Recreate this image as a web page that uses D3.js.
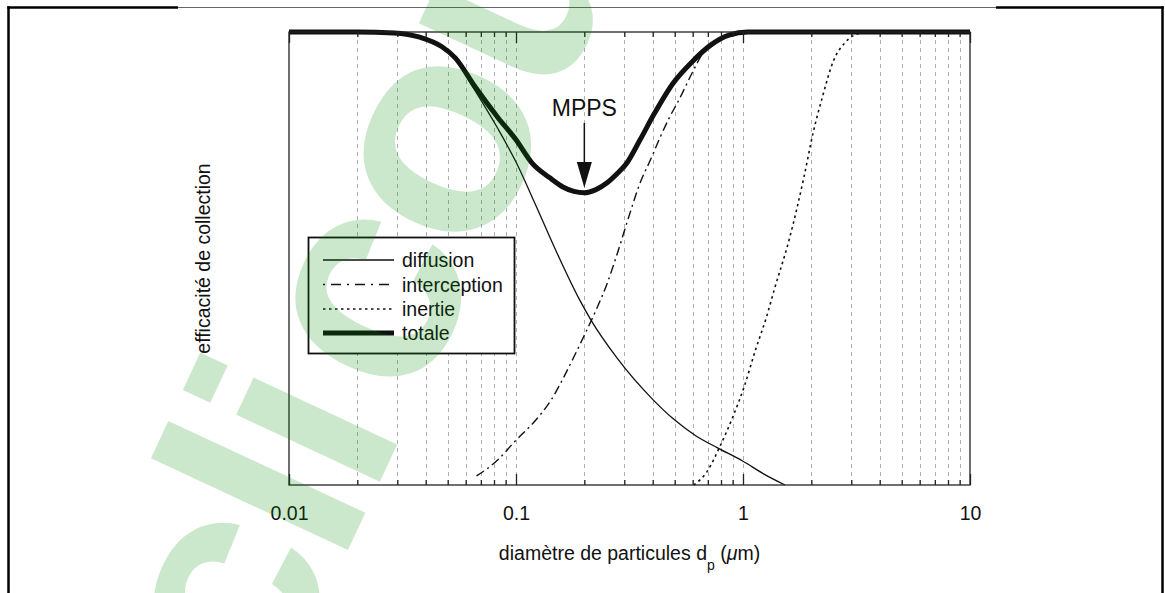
<!DOCTYPE html>
<html>
<head>
<meta charset="utf-8">
<script src="https://cdn.jsdelivr.net/npm/d3@7"></script>
<style>
  html, body { margin: 0; padding: 0; background: #fff; }
  svg { display: block; font-family: "Liberation Sans", Arial, Helvetica, sans-serif; }
</style>
</head>
<body>
<svg id="chart" width="1165" height="593"></svg>
<script>
// Collection efficiency of a fibrous filter vs particle diameter (µm)
const diffusionDp = [0.01, 0.02, 0.03, 0.038, 0.047, 0.054, 0.0634, 0.0829, 0.1, 0.1226, 0.15, 0.191, 0.214, 0.279, 0.402, 0.493, 0.614, 0.772, 0.996, 1.237, 1.531];
const diffusionE  = [1, 1, 0.998, 0.988, 0.968, 0.94, 0.885, 0.788, 0.713, 0.616, 0.517, 0.408, 0.364, 0.28, 0.188, 0.146, 0.11, 0.082, 0.053, 0.024, 0];

const interceptionDp = [0.067, 0.083, 0.0987, 0.122, 0.143, 0.16, 0.18, 0.202, 0.227, 0.25, 0.279, 0.313, 0.351, 0.393, 0.432, 0.475, 0.522, 0.596, 0.667, 0.734, 0.837, 1.0, 1.2];
const interceptionE  = [0.02, 0.055, 0.096, 0.143, 0.188, 0.232, 0.283, 0.335, 0.39, 0.44, 0.51, 0.59, 0.665, 0.72, 0.768, 0.812, 0.85, 0.909, 0.954, 0.976, 0.993, 1.0, 1.0];

const inertieDp = [0.607, 0.693, 0.791, 0.903, 1.012, 1.135, 1.271, 1.371, 1.596, 1.858, 2.033, 2.239, 2.51, 2.81, 3.27, 4, 10];
const inertieE  = [0, 0.029, 0.085, 0.151, 0.217, 0.298, 0.372, 0.43, 0.541, 0.681, 0.776, 0.857, 0.938, 0.976, 0.997, 1, 1];

const totaleDp = [0.01, 0.02, 0.029, 0.038, 0.047, 0.054, 0.066, 0.083, 0.1, 0.118, 0.141, 0.161, 0.18, 0.2, 0.225, 0.252, 0.28, 0.308, 0.352, 0.408, 0.492, 0.596, 0.72, 0.867, 1.05, 2, 10];
const totaleE  = [1, 1, 0.998, 0.988, 0.968, 0.943, 0.879, 0.812, 0.762, 0.71, 0.678, 0.658, 0.648, 0.645, 0.652, 0.667, 0.688, 0.711, 0.762, 0.821, 0.887, 0.934, 0.971, 0.993, 1, 1, 1];

const seriesNames = ["diffusion", "interception", "inertie", "totale"];
const majorTickValues = [0.01, 0.1, 1, 10];
const majorTickLabels = ["0.01", "0.1", "1", "10"];
const mppsDiameter = 0.2;

const svg = d3.select("#chart");

const x = d3.scaleLog().domain([0.01, 10]).range([289, 970]);
const y = d3.scaleLinear().domain([0, 1]).range([485, 32]);

// outer frame of the figure cell
const frame = svg.append("g");
frame.append("line").attr("x1", 7.3).attr("x2", 178).attr("y1", 7.5).attr("y2", 7.5).attr("stroke", "#000").attr("stroke-width", 2.5);
frame.append("line").attr("x1", 178).attr("x2", 996).attr("y1", 7.5).attr("y2", 7.5).attr("stroke", "#666").attr("stroke-width", 1);
frame.append("line").attr("x1", 996).attr("x2", 1163.7).attr("y1", 7.5).attr("y2", 7.5).attr("stroke", "#000").attr("stroke-width", 2.5);
frame.append("line").attr("x1", 8.5).attr("x2", 8.5).attr("y1", 6.3).attr("y2", 593).attr("stroke", "#000").attr("stroke-width", 2.5);
frame.append("line").attr("x1", 1162.5).attr("x2", 1162.5).attr("y1", 6.3).attr("y2", 593).attr("stroke", "#000").attr("stroke-width", 2.5);

// vertical dashed grid at every log tick
const allTicks = x.ticks();
svg.append("g")
  .selectAll("line")
  .data(allTicks.filter(t => t > 0.01 && t < 10))
  .join("line")
  .attr("x1", d => Math.round(x(d)) + 0.5)
  .attr("x2", d => Math.round(x(d)) + 0.5)
  .attr("y1", y(1))
  .attr("y2", y(0))
  .attr("stroke", "#b0b0b0")
  .attr("stroke-width", 1)
  .attr("stroke-dasharray", "4,4");

// legend box (covers the grid)
const legend = svg.append("g");
legend.append("rect")
  .attr("x", 308.5).attr("y", 237.5).attr("width", 206).attr("height", 116)
  .attr("fill", "#fff").attr("stroke", "#111").attr("stroke-width", 1.8);

const styles = {
  diffusion:    { width: 1.3, dash: null },
  interception: { width: 1.4, dash: "9,4,2,4" },
  inertie:      { width: 1.6, dash: "2.5,3.5" },
  totale:       { width: 5,   dash: null }
};

const lineGen = d3.line()
  .x(d => x(d[0]))
  .y(d => y(d[1]))
  .curve(d3.curveMonotoneX);

const seriesData = {
  diffusion: d3.zip(diffusionDp, diffusionE),
  interception: d3.zip(interceptionDp, interceptionE),
  inertie: d3.zip(inertieDp, inertieE),
  totale: d3.zip(totaleDp, totaleE)
};

const curves = svg.append("g").attr("fill", "none");
seriesNames.forEach(name => {
  const s = styles[name];
  curves.append("path")
    .datum(seriesData[name])
    .attr("d", lineGen)
    .attr("stroke", "#111")
    .attr("stroke-width", s.width)
    .attr("stroke-dasharray", s.dash)
    .attr("stroke-linejoin", "round");
});

// legend entries
const legendRowY = [260, 284.5, 309, 333];
seriesNames.forEach((name, i) => {
  const s = styles[name];
  legend.append("line")
    .attr("x1", 323).attr("x2", 394)
    .attr("y1", legendRowY[i]).attr("y2", legendRowY[i])
    .attr("stroke", "#111")
    .attr("stroke-width", s.width)
    .attr("stroke-dasharray", name === "interception" ? "2,6,10,6" : s.dash);
  legend.append("text")
    .attr("x", 402).attr("y", legendRowY[i])
    .attr("dy", "0.36em")
    .attr("font-size", 19.5)
    .attr("fill", "#111")
    .text(name);
});

// plot frame
svg.append("rect")
  .attr("x", x(0.01)).attr("y", y(1))
  .attr("width", x(10) - x(0.01)).attr("height", y(0) - y(1))
  .attr("fill", "none").attr("stroke", "#222").attr("stroke-width", 1.3);

// inward ticks, bottom and top
const minorTicks = allTicks.filter(t => !majorTickValues.includes(t));
function addTicks(axisFn, yPos, values, len) {
  const g = svg.append("g")
    .attr("transform", `translate(0,${yPos})`)
    .call(axisFn(x).tickValues(values).tickSize(-len).tickFormat(""));
  g.select(".domain").remove();
  g.selectAll(".tick line").attr("stroke", "#222").attr("stroke-width", 1.3);
}
addTicks(d3.axisBottom, y(0), minorTicks, 5);
addTicks(d3.axisBottom, y(0), majorTickValues, 11);
addTicks(d3.axisTop, y(1), minorTicks, 5);
addTicks(d3.axisTop, y(1), majorTickValues, 11);

// tick labels
const labelAxis = svg.append("g")
  .attr("transform", `translate(0,${y(0)})`)
  .call(d3.axisBottom(x).tickValues(majorTickValues).tickSize(0).tickPadding(21)
    .tickFormat((d, i) => majorTickLabels[i]));
labelAxis.select(".domain").remove();
labelAxis.selectAll("text")
  .attr("font-family", "Liberation Sans, Arial, sans-serif")
  .attr("font-size", 19.5)
  .attr("fill", "#111");

// axis titles
const xTitle = svg.append("text")
  .attr("x", (x(0.01) + x(10)) / 2)
  .attr("y", 560)
  .attr("text-anchor", "middle")
  .attr("font-size", 19.5)
  .attr("fill", "#111");
xTitle.append("tspan").text("diamètre de particules d");
xTitle.append("tspan").attr("font-size", 14).attr("dy", 10).text("p");
xTitle.append("tspan").attr("dy", -10).text(" (");
xTitle.append("tspan").attr("font-style", "italic").text("μ");
xTitle.append("tspan").text("m)");

svg.append("text")
  .attr("transform", `translate(203,${(y(0) + y(1)) / 2}) rotate(-90)`)
  .attr("text-anchor", "middle")
  .attr("dy", "0.36em")
  .attr("font-size", 19.5)
  .attr("fill", "#111")
  .text("efficacité de collection");

// MPPS annotation
const mx = x(mppsDiameter);
const minE = d3.min(totaleE);
svg.append("text")
  .attr("x", mx).attr("y", 116)
  .attr("text-anchor", "middle")
  .attr("font-size", 23)
  .attr("fill", "#111")
  .text("MPPS");
svg.append("line")
  .attr("x1", mx).attr("x2", mx)
  .attr("y1", 123).attr("y2", 166)
  .attr("stroke", "#111").attr("stroke-width", 1.5);
svg.append("path")
  .attr("d", `M${mx - 7.5},${162} L${mx + 7.5},${162} L${mx},${y(minE) - 5} Z`)
  .attr("fill", "#111");

// site watermark
const wm = svg.append("text")
  .attr("transform", "translate(272,713) rotate(-65)")
  .attr("font-family", "Liberation Sans, Arial, sans-serif")
  .attr("font-weight", "bold")
  .attr("font-size", 300)
  .attr("letter-spacing", -8)
  .attr("fill", "rgb(0,140,0)")
  .attr("fill-opacity", 0.2);
wm.append("tspan").text("cli");
wm.append("tspan").attr("dx", 25).text("cours");
</script>
</body>
</html>
